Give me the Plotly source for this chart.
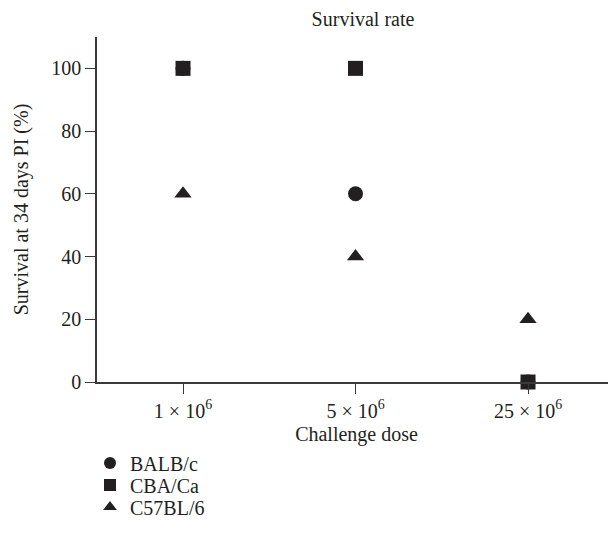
import plotly.graph_objects as go

doses = ["1 × 10<sup>6</sup>", "5 × 10<sup>6</sup>", "25 × 10<sup>6</sup>"]
balb_c = [100, 60, 0]
cba_ca = [100, 100, 0]
c57bl_6 = [60, 40, 20]

series = [
    ("BALB/c", balb_c, "circle", "legend", -0.2348),
    ("CBA/Ca", cba_ca, "square", "legend2", -0.2986),
    ("C57BL/6", c57bl_6, "triangle-up", "legend3", -0.3623),
]

ink = "#231f20"
font = "Liberation Serif"
fs = 20

fig = go.Figure()
legends = {}
for name, vals, sym, lg, ly in series:
    fig.add_trace(go.Scatter(
        x=[0, 1, 2], y=vals, mode="markers", name=name, legend=lg,
        marker=dict(symbol=sym, size=15, color=ink, line=dict(width=0)),
        cliponaxis=False,
    ))
    legends[lg] = dict(orientation="v", x=-0.0135, xanchor="left", y=ly, yanchor="middle",
                       font=dict(family=font, size=fs, color=ink), itemsizing="constant",
                       bgcolor="rgba(0,0,0,0)")

fig.update_layout(
    width=616, height=545,
    margin=dict(l=89, r=8, t=29, b=171),
    paper_bgcolor="white", plot_bgcolor="white",
    font=dict(family=font, size=fs, color=ink),
    title=dict(text="Survival rate", x=0.5125, xanchor="center", xref="paper",
               y=0.980, yref="container", yanchor="middle",
               font=dict(family=font, size=fs, color=ink)),
    showlegend=True,
    **legends,
    xaxis=dict(
        range=[-0.4986, 2.51], tickmode="array", tickvals=[0, 1, 2], ticktext=doses,
        showgrid=False, zeroline=False, showline=True, linecolor="#3a3a3a", linewidth=1.5,
        ticks="outside", ticklen=10, tickcolor="#3a3a3a", tickwidth=1,
        title=dict(text="Challenge dose", standoff=6, font=dict(family=font, size=fs)),
        tickfont=dict(family=font, size=fs),
    ),
    yaxis=dict(
        range=[0, 110], tickvals=[0, 20, 40, 60, 80, 100],
        showgrid=False, zeroline=False, showline=True, linecolor="#3a3a3a", linewidth=1.5,
        ticks="outside", ticklen=10, tickcolor="#3a3a3a", tickwidth=1,
        title=dict(text="Survival at 34 days PI (%)", standoff=17, font=dict(family=font, size=fs)),
        tickfont=dict(family=font, size=fs),
    ),
)

fig.write_html("out.html")
